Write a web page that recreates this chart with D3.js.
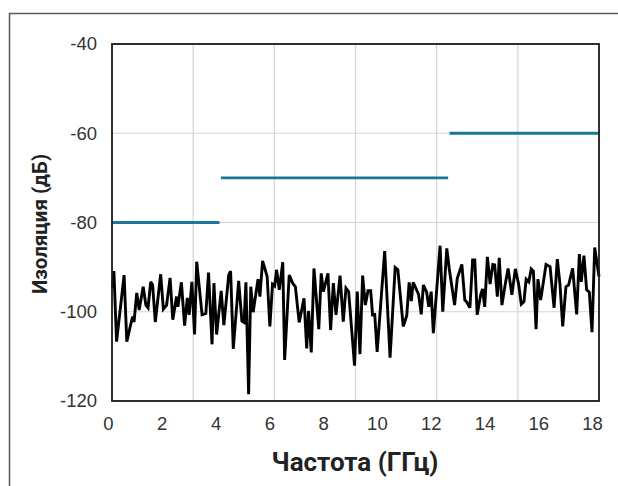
<!DOCTYPE html>
<html><head><meta charset="utf-8">
<script src="https://cdn.jsdelivr.net/npm/d3@7"></script>
<style>
html,body{margin:0;padding:0;background:#fff;}
svg{display:block;}
</style></head>
<body>
<svg id="chart" width="618" height="486"></svg>
<script>
// ---- data ----
const freq = [0.17,0.22,0.32,0.60,0.70,0.84,0.92,0.97,1.07,1.16,1.31,1.41,1.49,1.59,1.66,1.76,1.96,2.06,2.18,2.31,2.41,2.55,2.60,2.73,2.85,2.95,3.02,3.12,
3.22,3.30,3.50,3.64,3.74,3.87,3.94,4.04,4.21,4.31,4.49,4.56,4.66,4.86,4.98,5.06,5.13,5.23,5.31,5.40,5.53,5.58,5.65,5.75,5.92,6.02,
6.12,6.20,6.27,6.37,6.50,6.57,6.74,6.87,6.97,7.11,7.29,7.39,7.46,7.56,7.66,7.84,7.93,8.01,8.18,8.28,8.38,8.48,8.63,8.75,8.85,8.95,
9.17,9.27,9.37,9.47,9.57,9.67,9.77,9.84,9.92,10.01,10.29,10.49,10.68,10.78,10.98,11.11,11.20,11.28,11.35,11.55,11.65,11.73,11.85,11.93,12.02,
12.10,12.35,12.45,12.60,12.69,12.89,12.99,13.16,13.27,13.34,13.46,13.56,13.64,13.73,13.86,13.93,14.01,14.11,14.21,14.31,14.38,14.48,14.55,14.65,14.78,14.88,15.02,
15.15,15.27,15.37,15.47,15.55,15.65,15.74,15.82,15.92,15.99,16.09,16.29,16.44,16.59,16.71,16.81,16.91,17.03,17.13,17.28,17.43,17.53,17.60,17.70,17.80,17.90,18.00,18.10,18.26];
const isolation = [-94.7,-90.9,-106.7,-91.8,-106.7,-103.0,-101.1,-102.3,-95.8,-99.6,-94.4,-98.5,-99.1,-93.3,-94.0,-102.3,-91.6,-99.4,-98.5,-92.4,-101.8,-96.6,-98.9,-93.4,-103.1,-96.9,-100.7,-93.3,
-105.1,-88.8,-100.7,-100.4,-91.2,-107.3,-93.6,-105.1,-95.3,-103.0,-91.8,-90.9,-108.3,-93.1,-102.1,-102.4,-93.4,-118.5,-94.4,-100.1,-94.7,-92.7,-96.6,-88.6,-92.1,-103.3,
-93.8,-94.2,-90.6,-95.1,-88.9,-110.8,-91.8,-93.6,-94.4,-102.4,-97.0,-108.2,-99.8,-109.1,-90.3,-103.9,-91.4,-95.5,-91.4,-104.1,-93.6,-100.7,-91.9,-102.2,-94.7,-95.5,
-112.1,-95.5,-109.5,-91.9,-98.5,-95.3,-95.3,-100.7,-100.6,-109.0,-86.4,-110.3,-90.1,-90.6,-103.3,-100.9,-93.4,-97.6,-93.4,-96.1,-100.6,-94.0,-95.6,-98.9,-95.5,
-104.8,-85.2,-100.0,-85.8,-90.3,-98.5,-92.5,-89.4,-97.4,-97.8,-99.1,-88.4,-88.4,-100.7,-96.2,-94.9,-98.9,-87.7,-93.8,-89.4,-89.5,-96.6,-87.9,-98.5,-93.6,-90.3,-96.2,
-90.4,-93.8,-98.3,-97.7,-92.7,-93.3,-90.4,-90.9,-103.9,-92.7,-97.4,-89.4,-89.9,-99.1,-88.2,-94.0,-103.3,-94.4,-94.0,-90.3,-100.6,-87.1,-93.3,-87.4,-95.1,-95.6,-104.6,-85.6,-92.1];
const limitStart = [0.15, 4.20, 12.70];
const limitEnd   = [4.15, 12.65, 18.26];
const limitValue = [-80, -70, -60];
const xTicks = [0,2,4,6,8,10,12,14,16,18];
const yTicks = [-40,-60,-80,-100,-120];
const xTitle = "Частота (ГГц)";
const yTitle = "Изоляция (дБ)";

// ---- layout ----
const svg = d3.select("#chart");
const L = 112, R = 599, T = 44, B = 401;
const x = d3.scaleLinear().domain([0.15, 18.26]).range([L, R]);
const y = d3.scaleLinear().domain([-120, -40]).range([B, T]);

// outer frame
svg.append("rect").attr("x", 9.5).attr("y", 13.5).attr("width", 640).attr("height", 500)
  .attr("fill", "none").attr("stroke", "#5a5a5a").attr("stroke-width", 1.5);

// grid
const [d0, d1] = x.domain();
const vGrid = d3.range(1, 6).map(i => d0 + i * (d1 - d0) / 6);
svg.append("g").selectAll("line").data(vGrid).join("line")
  .attr("x1", d => x(d)).attr("x2", d => x(d)).attr("y1", T).attr("y2", B)
  .attr("stroke", "#d4d4d4").attr("stroke-width", 1.2);
svg.append("g").selectAll("line").data(yTicks).join("line")
  .attr("x1", L).attr("x2", R).attr("y1", d => y(d)).attr("y2", d => y(d))
  .attr("stroke", "#d4d4d4").attr("stroke-width", 1.2);

// limit lines
svg.append("g").selectAll("line").data(limitValue).join("line")
  .attr("x1", (d, i) => x(limitStart[i])).attr("x2", (d, i) => x(limitEnd[i]))
  .attr("y1", d => y(d)).attr("y2", d => y(d))
  .attr("stroke", "#1a7897").attr("stroke-width", 2.8);

// data line
const pts = freq.map((f, i) => [f, isolation[i]]);
svg.append("path").datum(pts)
  .attr("d", d3.line().x(d => x(d[0])).y(d => y(d[1])))
  .attr("fill", "none").attr("stroke", "#000").attr("stroke-width", 2.9)
  .attr("stroke-linejoin", "miter").attr("stroke-miterlimit", 3);

// plot border
svg.append("rect").attr("x", L).attr("y", T).attr("width", R - L).attr("height", B - T)
  .attr("fill", "none").attr("stroke", "#1a1a1a").attr("stroke-width", 1.8);

// axes
const xAxis = svg.append("g").attr("transform", `translate(0,${B})`)
  .call(d3.axisBottom(x).tickValues(xTicks).tickSize(0).tickPadding(16).tickFormat(d3.format("d")));
const yAxis = svg.append("g").attr("transform", `translate(${L},0)`)
  .call(d3.axisLeft(y).tickValues(yTicks).tickSize(0).tickPadding(15).tickFormat(d => d));
[xAxis, yAxis].forEach(g => {
  g.select(".domain").remove();
  g.selectAll("text").attr("font-family", "'Liberation Sans', Arial, sans-serif")
    .attr("font-size", 18.5).attr("fill", "#333");
});

// titles
svg.append("text").attr("x", 355).attr("y", 471).attr("text-anchor", "middle")
  .attr("font-family", "Roboto, sans-serif").attr("font-weight", "bold")
  .attr("font-size", 26).attr("fill", "#222").text(xTitle);
svg.append("text").attr("transform", `translate(47,224) rotate(-90)`).attr("text-anchor", "middle")
  .attr("font-family", "Roboto, sans-serif").attr("font-weight", "bold")
  .attr("font-size", 20.5).attr("fill", "#222").text(yTitle);
</script>
</body></html>
